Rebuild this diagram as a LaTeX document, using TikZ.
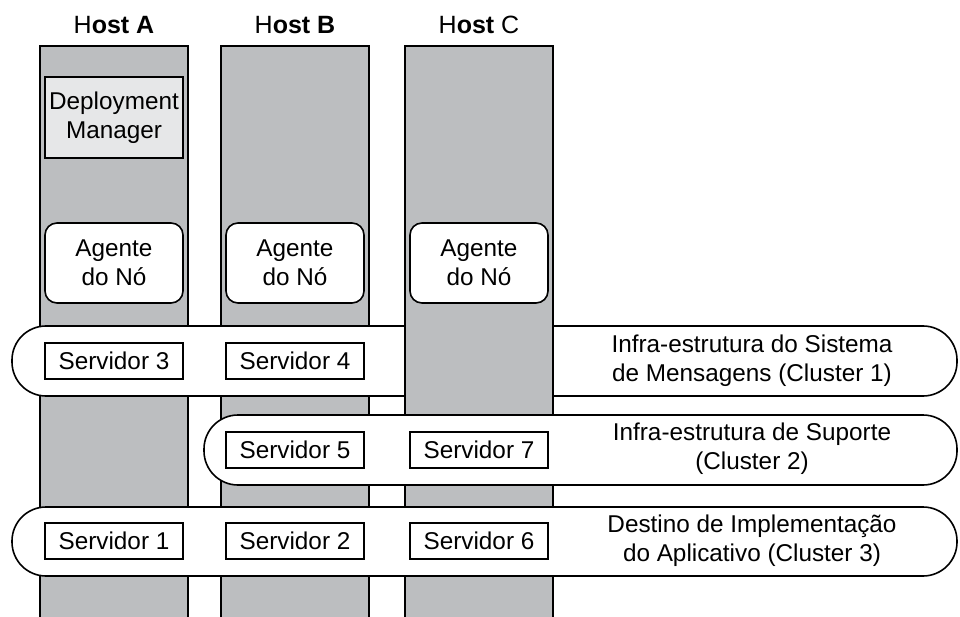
\documentclass[tikz,border=0pt]{standalone}
\usepackage{fontspec}
\setmainfont{Liberation Sans}
\definecolor{hostgray}{HTML}{BCBEC0}
\definecolor{dmgray}{HTML}{E6E7E8}
\begin{document}
\begin{tikzpicture}[x=1pt,y=-1pt,line width=1.6pt,
  hostcol/.style={draw=black,fill=hostgray},
  band/.style={draw=black,fill=white,rounded corners=34pt},
  txt/.style={font=\fontsize{24.3}{29}\selectfont,align=center},
  srv/.style={txt,draw=black,fill=white,minimum width=138pt,minimum height=36pt,inner sep=0pt},
  agent/.style={txt,draw=black,fill=white,rounded corners=12pt,minimum width=138pt,minimum height=80pt,inner sep=0pt},
  dm/.style={txt,draw=black,fill=dmgray,minimum width=138pt,minimum height=81pt,inner sep=0pt},
  hostlbl/.style={font=\fontsize{25}{30}\selectfont}]
\useasboundingbox (0,0) rectangle (960,617);
\clip (0,0) rectangle (960,617);
% host columns A and B
\draw[hostcol] (40,46) rectangle (188,640);
\draw[hostcol] (221,46) rectangle (369,640);
% cluster 1 band
\draw[band] (12,326) rectangle (957,396);
% host column C (over cluster 1)
\draw[hostcol] (405,46) rectangle (553,640);
% cluster 2 and 3 bands
\draw[band] (204,415) rectangle (957,485);
\draw[band] (12,507) rectangle (957,576);
% host labels
\node[hostlbl] (hA) at (114,25) {H\textbf{ost A}};
\node[hostlbl] (hB) at (295,25) {H\textbf{ost B}};
\node[hostlbl] (hC) at (479,25) {H\textbf{ost} C};
% deployment manager
\node[dm] (dm) at (114,117.5) {Deployment\\Manager};
% node agents
\node[agent] (agA) at (114,263) {Agente\\do Nó};
\node[agent] (agB) at (295,263) {Agente\\do Nó};
\node[agent] (agC) at (479,263) {Agente\\do Nó};
% servers
\node[srv] (s3) at (114,361) {Servidor 3};
\node[srv] (s4) at (295,361) {Servidor 4};
\node[srv] (s5) at (295,450) {Servidor 5};
\node[srv] (s7) at (479,450) {Servidor 7};
\node[srv] (s1) at (114,541) {Servidor 1};
\node[srv] (s2) at (295,541) {Servidor 2};
\node[srv] (s6) at (479,541) {Servidor 6};
% cluster labels
\node[txt] (c1) at (752,361) {Infra-estrutura do Sistema\\de Mensagens (Cluster 1)};
\node[txt] (c2) at (752,449) {Infra-estrutura de Suporte\\(Cluster 2)};
\node[txt] (c3) at (752,541) {Destino de Implementação\\do Aplicativo (Cluster 3)};
\end{tikzpicture}
\end{document}
